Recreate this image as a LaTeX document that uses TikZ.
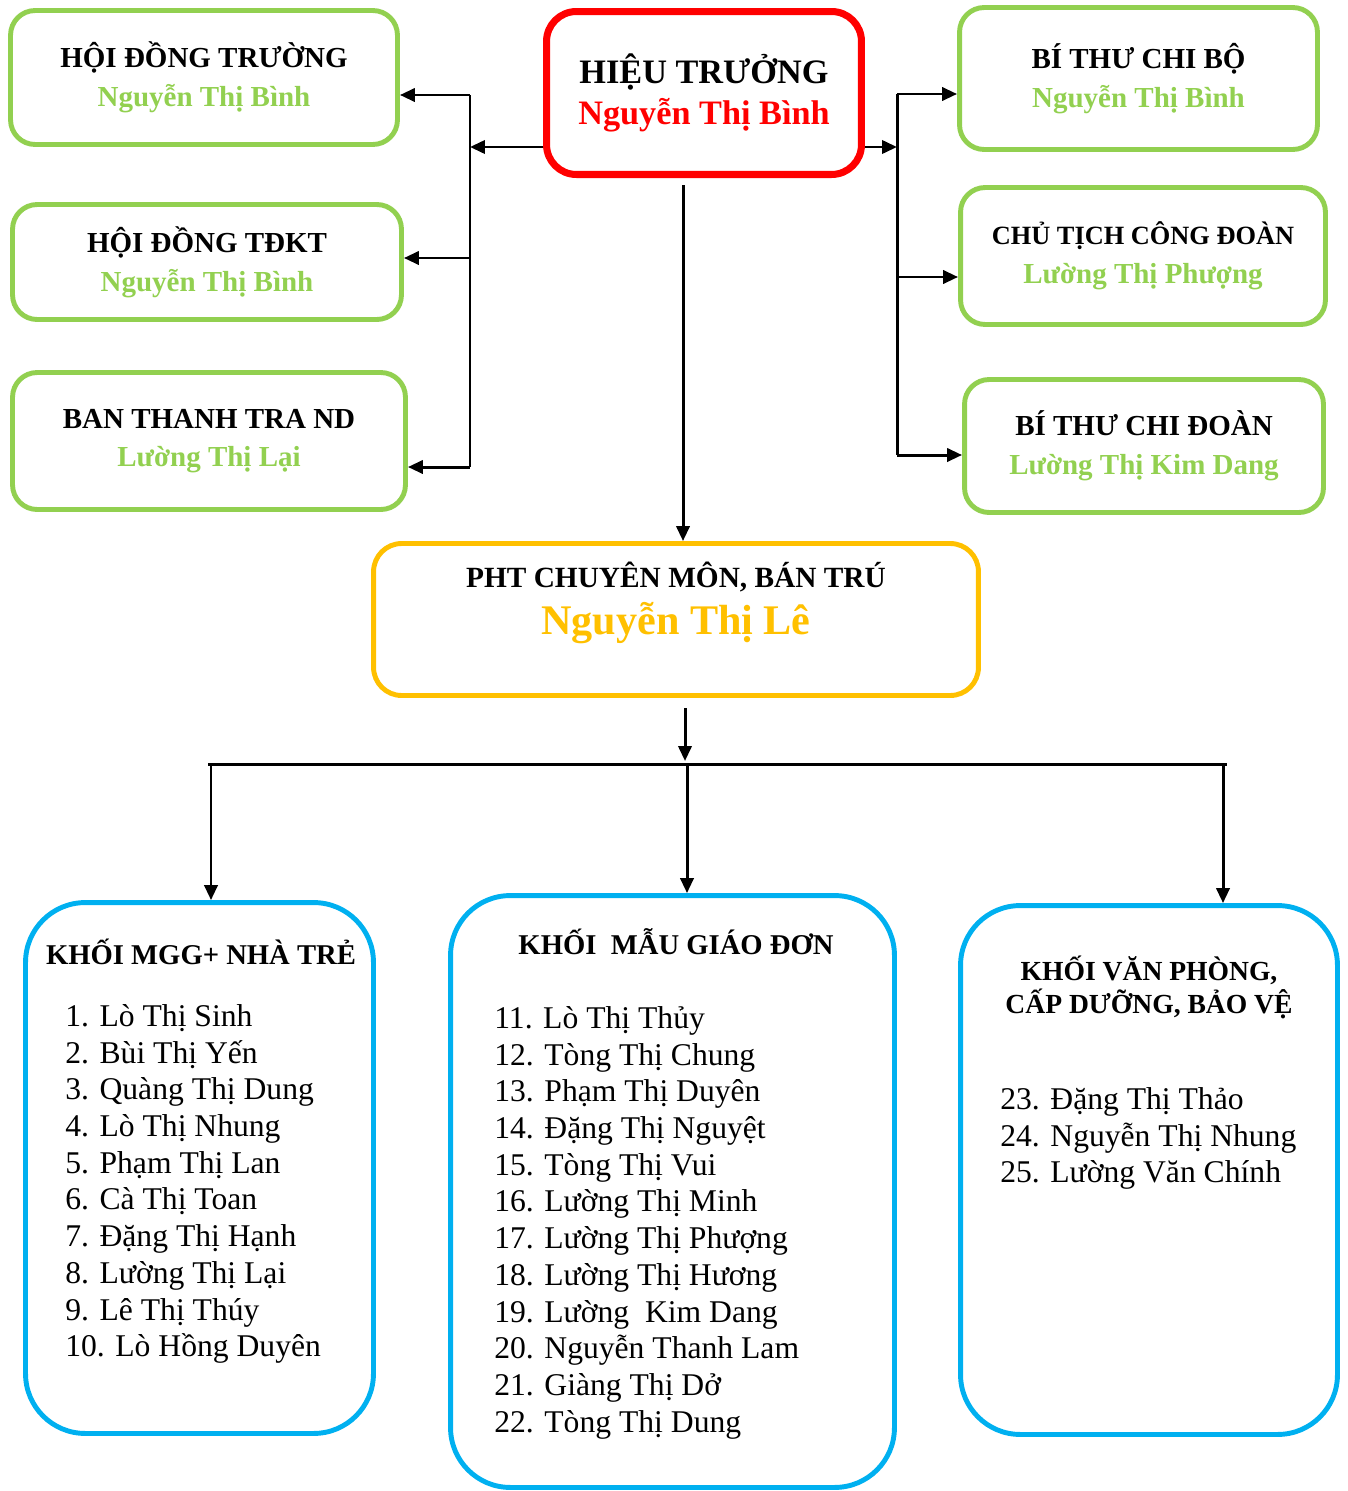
\documentclass[tikz,border=0pt]{standalone}
\usepackage{fontspec}
\setmainfont{Liberation Serif}
\usetikzlibrary{arrows.meta}
\usetikzlibrary{positioning}
\definecolor{boxgreen}{HTML}{92D050}
\definecolor{boxred}{HTML}{FF0000}
\definecolor{boxorange}{HTML}{FFC000}
\definecolor{boxblue}{HTML}{00B0F0}
\newcommand{\gname}[1]{{\color{boxgreen}#1}}
\tikzset{
    greenbox/.style = {rectangle, rounded corners=14pt, draw=boxgreen, line width=2.8pt, align=center, inner sep=0pt, font=\bfseries\fontsize{16.5}{22}\selectfont},
    redbox/.style = {rectangle, rounded corners=17pt, draw=boxred, line width=4pt, align=center, inner sep=0pt, font=\bfseries\fontsize{19.5}{23.5}\selectfont},
    orangebox/.style = {rectangle, rounded corners=16pt, draw=boxorange, line width=2.8pt},
    bluebox/.style = {rectangle, rounded corners=34pt, draw=boxblue, line width=2.8pt},
    headtext/.style = {inner sep=0pt, align=center, font=\bfseries\fontsize{16.3}{18.7}\selectfont},
    listtext/.style = {inner sep=0pt, align=left, anchor=north west, font=\fontsize{18}{20.9}\selectfont},
    arr/.style = {-{Triangle[length=8.5pt,width=7.5pt]}, line width=1.7pt},
    bus/.style = {line width=1.7pt}
}
\begin{document}
\begin{tikzpicture}[x=0.02cm, y=-0.02cm]
\useasboundingbox (0,0) rectangle (1347,1491);
% top row
\node[redbox, minimum width=6.30cm, minimum height=3.26cm] at (704,93) (ht) {HIỆU TRƯỞNG\\{\color{boxred}Nguyễn Thị Bình}};
\node[greenbox, minimum width=7.74cm, minimum height=2.68cm] at (204,77.5) (hdt) {HỘI ĐỒNG TRƯỜNG\\\gname{Nguyễn Thị Bình}};
\node[greenbox, minimum width=7.78cm, minimum height=2.30cm] at (207,262) (tdkt) {HỘI ĐỒNG TĐKT\\\gname{Nguyễn Thị Bình}};
\node[greenbox, minimum width=7.86cm, minimum height=2.74cm] at (209,441) (ttnd) {BAN THANH TRA ND\\\gname{Lường Thị Lại}};
\node[greenbox, minimum width=7.16cm, minimum height=2.84cm] at (1138.5,78.5) (bt) {BÍ THƯ CHI BỘ\\\gname{Nguyễn Thị Bình}};
\node[greenbox, minimum width=7.30cm, minimum height=2.74cm] at (1143,256) (ct) {{\fontsize{15}{22}\selectfont CHỦ TỊCH CÔNG ĐOÀN}\\\gname{Lường Thị Phượng}};
\node[greenbox, minimum width=7.18cm, minimum height=2.66cm] at (1144,446) (btd) {BÍ THƯ CHI ĐOÀN\\\gname{Lường Thị Kim Dang}};
%
\node[orangebox, minimum width=12.10cm, minimum height=3.04cm] at (676,619.5) (pht) {};
\node[headtext, font=\bfseries\fontsize{16.7}{27}\selectfont] at (676,603) (phttext) {PHT CHUYÊN MÔN, BÁN TRÚ\\{\color{boxorange}\fontsize{24}{27}\selectfont Nguyễn Thị Lê}};
% bottom row
\node[bluebox, minimum width=6.96cm, minimum height=10.62cm] at (199.5,1168) (mgg) {};
\node[bluebox, minimum width=8.88cm, minimum height=11.84cm] at (672.5,1191.5) (mgd) {};
\node[bluebox, minimum width=7.54cm, minimum height=10.58cm] at (1149,1170) (vp) {};
\node[headtext] at (201,952) (mggtitle) {KHỐI MGG+ NHÀ TRẺ};
\node[headtext] at (676,942) (mgdtitle) {KHỐI~~MẪU GIÁO ĐƠN};
\node[headtext, font=\bfseries\fontsize{15.7}{18.7}\selectfont] at (1149,987) (vptitle) {KHỐI VĂN PHÒNG,\\CẤP DƯỠNG, BẢO VỆ};
\node[listtext] at (65,1004) (mgglist) {1. Lò Thị Sinh\\2. Bùi Thị Yến\\3. Quàng Thị Dung\\4. Lò Thị Nhung\\5. Phạm Thị Lan\\6. Cà Thị Toan\\7. Đặng Thị Hạnh\\8. Lường Thị Lại\\9. Lê Thị Thúy\\10. Lò Hồng Duyên};
\node[listtext] at (494,1006) (mgdlist) {11. Lò Thị Thủy\\12. Tòng Thị Chung\\13. Phạm Thị Duyên\\14. Đặng Thị Nguyệt\\15. Tòng Thị Vui\\16. Lường Thị Minh\\17. Lường Thị Phượng\\18. Lường Thị Hương\\19. Lường~~Kim Dang\\20. Nguyễn Thanh Lam\\21. Giàng Thị Dở\\22. Tòng Thị Dung};
\node[listtext] at (1000,1087) (vplist) {23. Đặng Thị Thảo\\24. Nguyễn Thị Nhung\\25. Lường Văn Chính};
% junctions
\coordinate (lt) at (470,95);
\coordinate (lm) at (470,147);
\coordinate (ld) at (470,258);
\coordinate (lb) at (470,467);
\coordinate (rt) at (897,94);
\coordinate (rm) at (897,147);
\coordinate (rd) at (897,277);
\coordinate (rb) at (897,455);
\coordinate (hd) at (683,185);
\coordinate (pd) at (685,708);
\coordinate (pb) at (685,764);
\coordinate (bl) at (208,764);
\coordinate (br) at (1227,764);
\coordinate (ba) at (211,764);
\coordinate (bb) at (687,764);
\coordinate (bc) at (1223,764);
%
\draw[arr] (ht.west |- lm) -- (lm);
\draw[bus] (lt) -- (lb);
\draw[arr] (lt) -- (lt -| hdt.east);
\draw[arr] (ld) -- (ld -| tdkt.east);
\draw[arr] (lb) -- (lb -| ttnd.east);
%
\draw[arr] (ht.east |- rm) -- (rm);
\draw[bus] (rt) -- (rb);
\draw[arr] (rt) -- (rt -| bt.west);
\draw[arr] (rd) -- (rd -| ct.west);
\draw[arr] (rb) -- (rb -| btd.west);
%
\draw[arr] (hd) -- (hd |- pht.north);
\draw[arr] (pd) -- ([yshift=1.7pt]pb);
\draw[bus] (bl) -- (br);
\draw[arr] (ba) -- (ba |- mgg.north);
\draw[arr] (bb) -- (bb |- mgd.north);
\draw[arr] (bc) -- (bc |- vp.north);
\end{tikzpicture}
\end{document}
